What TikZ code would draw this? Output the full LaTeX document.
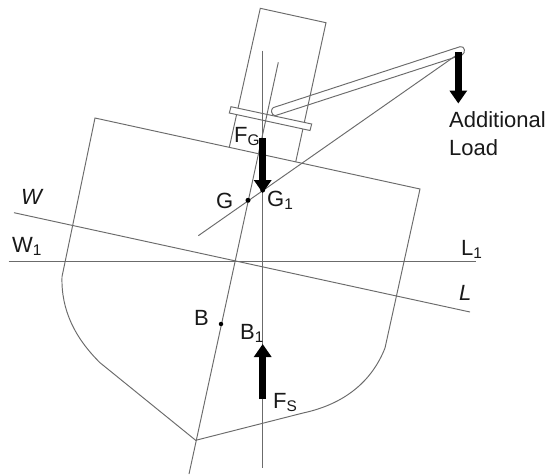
\documentclass[tikz,border=0pt]{standalone}
\usepackage{fontspec}
\setmainfont{Liberation Sans}
\usetikzlibrary{arrows.meta}
\newcommand{\lsub}[1]{\textsubscript{#1}}
\tikzset{
  ln/.style={draw=black!58,line width=0.95pt,line join=miter},
  force/.style={line width=7pt,black,-{Triangle[length=13pt,width=17pt]}},
  lbl/.style={inner sep=0pt,anchor=base west,font=\fontsize{22}{26}\selectfont,text=black!90},
  dotp/.style={circle,fill=black,inner sep=0pt,minimum size=5pt},
}
\begin{document}
\begin{tikzpicture}[x=1pt,y=-1pt]
\useasboundingbox (0,0) rectangle (549,475);
\fill[white] (0,0) rectangle (549,475);
\coordinate (hA) at (260.3,8.3);
\coordinate (hB) at (326,22.7);
\coordinate (hC) at (295.7,162);
\coordinate (hD) at (229.3,147.3);
\coordinate (dL) at (95,118);
\coordinate (dR) at (420,189);
\coordinate (keel) at (195.7,440.3);
\draw[ln] (dR) -- (385,348) .. controls (372,381) and (345,404) .. (303,413) -- (keel)
  -- (100,362.7) .. controls (75,338) and (61,310) .. (62,276.7) -- (dL) -- cycle;
\draw[ln] (hD) -- (hA) -- (hB) -- (hC);
\draw[ln,fill=white] (231,106.7) -- (311.7,124) -- (310,130.5) -- (229.3,113) -- cycle;
\coordinate (w) at (14,212.7); \coordinate (l) at (470,312);
\coordinate (wa) at (8.7,261); \coordinate (la) at (475.7,261);
\draw[ln] (w) -- (l);
\draw[ln] (wa) -- (la);
\coordinate (ct) at (278.3,62.3); \coordinate (cb) at (189,474);
\coordinate (vt) at (262.7,50.7); \coordinate (vb) at (262.7,468);
\draw[ln] (ct) -- (cb);
\draw[ln] (vt) -- (vb);
% boom, tapering to the tail; the superstructure shows through it
\coordinate (bu1) at (273.3,107.6); \coordinate (bu2) at (460,46.7);
\coordinate (bl1) at (275,115.7); \coordinate (bl2) at (455,57.3);
\draw[ln] (bu1) -- (bu2) .. controls (465,45.5) and (466,53) .. (462,55)
  -- (bl2) -- (bl1) .. controls (271,115) and (270.5,109) .. (bu1) -- cycle;
\coordinate (ga) at (198.3,235.7); \coordinate (gb) at (456.7,55);
\draw[ln] (ga) -- (gb);
\coordinate (a1) at (458.3,51.7); \coordinate (a2) at (458.3,103.5);
\coordinate (f1) at (262.7,138); \coordinate (f2) at (262.7,193);
\coordinate (s1) at (262.7,399); \coordinate (s2) at (262.7,344);
\draw[force] (a1) -- (a2);
\draw[force] (f1) -- (f2);
\draw[force] (s1) -- (s2);
\node[dotp] (G) at (248,200.3) {};
\node[dotp] (Gone) at (262.7,190) {};
\node[dotp,minimum size=4.5pt] (B) at (221,324) {};
\node[lbl] (tAdd) at (449,127) {Additional};
\node[lbl] (tLoad) at (449,155) {Load};
\node[lbl] (tFG) at (234,142) {F\lsub{G}};
\node[lbl] (tG) at (216,208) {G};
\node[lbl] (tGo) at (267,206) {G\lsub{1}};
\node[lbl] (tW) at (21,204) {\itshape W};
\node[lbl] (tWo) at (12,252) {W\lsub{1}};
\node[lbl] (tLo) at (461,255) {L\lsub{1}};
\node[lbl] (tL) at (459,300) {\itshape L};
\node[lbl] (tB) at (194,325) {B};
\node[lbl] (tBo) at (240,339) {B\lsub{1}};
\node[lbl] (tFS) at (273,408) {F\lsub{S}};
\end{tikzpicture}
\end{document}
